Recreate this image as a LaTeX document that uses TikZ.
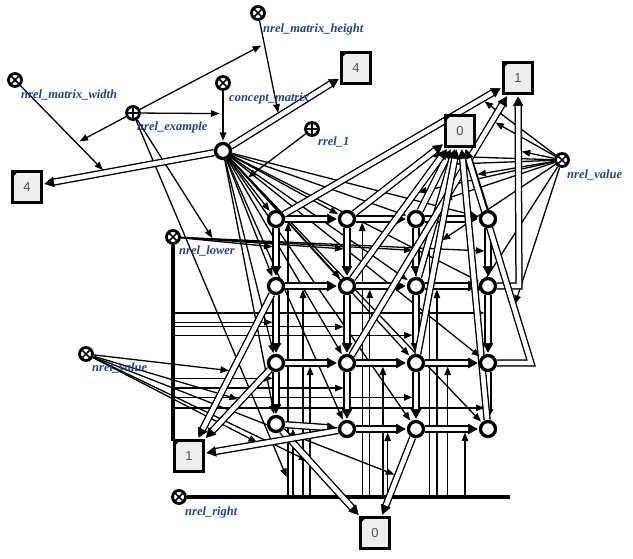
\documentclass[tikz,border=0pt]{standalone}
\usepackage{fontspec}
\setmainfont{Liberation Serif}
\newfontfamily\numfont{Liberation Sans}
\usetikzlibrary{arrows.meta,calc}
\pgfdeclarelayer{edges}
\pgfsetlayers{edges,main}
\definecolor{lblblue}{RGB}{28,66,150}
\definecolor{boxgray}{RGB}{238,238,238}
\definecolor{numgray}{RGB}{80,80,80}
% common arc drawn as a white tube with a solid head
\newcommand\tubeline[1]{\draw[tubebody] #1; \draw[tubetip] #1;}
\begin{document}
\begin{tikzpicture}[x=1pt,y=-1pt,
  cell/.style={circle, draw, line width=3.3pt, fill=white, minimum size=15pt, inner sep=0pt},
  relx/.style={circle, draw, line width=2.8pt, fill=white, minimum size=13pt, inner sep=0pt,
    path picture={\draw[line width=1.6pt]
      ([shift={(-3.6pt,-3.6pt)}]path picture bounding box.center) -- ([shift={(3.6pt,3.6pt)}]path picture bounding box.center)
      ([shift={(-3.6pt,3.6pt)}]path picture bounding box.center) -- ([shift={(3.6pt,-3.6pt)}]path picture bounding box.center);}},
  relp/.style={circle, draw, line width=2.8pt, fill=white, minimum size=13pt, inner sep=0pt,
    path picture={\draw[line width=1.6pt]
      ([xshift=-5pt]path picture bounding box.center) -- ([xshift=5pt]path picture bounding box.center)
      ([yshift=-5pt]path picture bounding box.center) -- ([yshift=5pt]path picture bounding box.center);}},
  valbox/.style={draw, line width=3pt, fill=boxgray, minimum width=29.5pt, minimum height=31.5pt, inner sep=0pt,
    font=\numfont\fontsize{13}{15}\selectfont, text=numgray,
    path picture={\fill[black] (path picture bounding box.north west) -- ([xshift=6pt]path picture bounding box.north west)
      -- ([yshift=-6pt]path picture bounding box.north west) -- cycle;}},
  lbl/.style={anchor=west, inner sep=0pt, text=lblblue, font=\bfseries\itshape\fontsize{12.5}{14}\selectfont},
  mem/.style={line width=1.3pt, -{Triangle[length=8.5pt,width=6.5pt]}, shorten >=1pt},
  onto/.style={mem, shorten >=3.5pt},
  bus/.style={line width=3.2pt},
  tubebody/.style={line width=1.5pt, double=white, double distance=4.3pt, shorten >=9pt},
  tubetip/.style={draw=white, line width=4.3pt, shorten >=1.2pt,
    -{Triangle[length=9.5pt,width=10.5pt,line width=0.4pt,black]}},
]
\useasboundingbox (0,0) rectangle (633,558);

% ---- relation and concept nodes
\node[relx] (nmh) at (258,13) {};
\node[relx] (nmw) at (15,80) {};
\node[relx] (cm)  at (223,83) {};
\node[relp] (ne)  at (133,113) {};
\node[relp] (r1)  at (312,129) {};
\node[relx] (nvr) at (562,160) {};
\node[relx] (nlo) at (173,237) {};
\node[relx] (nvl) at (86,354) {};
\node[relx] (nri) at (179,497) {};

\node[lbl] at (263,29)  {nrel\_matrix\_height};
\node[lbl] at (21,95)   {nrel\_matrix\_width};
\node[lbl] at (229,98)  {concept\_matrix};
\node[lbl] at (137,127) {nrel\_example};
\node[lbl] at (318,142) {rrel\_1};
\node[lbl] at (567,175) {nrel\_value};
\node[lbl] at (179,251) {nrel\_lower};
\node[lbl] at (92,368)  {nrel\_value};
\node[lbl] at (185,512) {nrel\_right};

% ---- the matrix and its cells
\node[cell] (M) at (223,151) {};
\node[cell] (c11) at (276,219) {};
\node[cell] (c12) at (347,219) {};
\node[cell] (c13) at (416,219) {};
\node[cell] (c14) at (488,219) {};
\node[cell] (c21) at (276,286) {};
\node[cell] (c22) at (347,286) {};
\node[cell] (c23) at (416,286) {};
\node[cell] (c24) at (488,286) {};
\node[cell] (c31) at (276,363) {};
\node[cell] (c32) at (347,363) {};
\node[cell] (c33) at (416,363) {};
\node[cell] (c34) at (488,363) {};
\node[cell] (c41) at (276,424) {};
\node[cell] (c42) at (347,429) {};
\node[cell] (c43) at (416,429) {};
\node[cell] (c44) at (488,429) {};

% ---- values
\node[valbox] (v4a) at (356,68)  {4};
\node[valbox] (v4b) at (27,187)  {4};
\node[valbox] (v1a) at (518,78)  {1};
\node[valbox] (v0a) at (460,131) {0};
\node[valbox] (v1b) at (189,456) {1};
\node[valbox] (v0b) at (375,533) {0};

% ---- bends and end points
\coordinate (k24) at (519,286);
\coordinate (k34) at (531,363);
\coordinate (nloend) at (173,441);
\coordinate (nriend) at (510,497);

% points on connectors that other arcs reach
\coordinate (ph) at ($(M)!0.42!(v4a)$);
\coordinate (pw) at ($(M)!0.6!(v4b)$);
\coordinate (pc) at ($(cm)!0.45!(M)$);
\coordinate (pr) at ($(M)!0.42!(c11)$);
% vertical tubes, reached from nrel_lower
\coordinate (l11) at ($(c11)!0.42!(c21)$);
\coordinate (l12) at ($(c12)!0.45!(c22)$);
\coordinate (l13) at ($(c13)!0.47!(c23)$);
\coordinate (l14) at ($(c14)!0.48!(c24)$);
\coordinate (l21) at ($(c21)!0.47!(c31)$);
\coordinate (l22) at ($(c22)!0.53!(c32)$);
\coordinate (l23) at ($(c23)!0.64!(c33)$);
\coordinate (l24) at ($(c24)!0.35!(c34)$);
\coordinate (l31) at ($(c31)!0.25!(c41)$);
\coordinate (l32) at ($(c32)!0.38!(c42)$);
\coordinate (l33) at ($(c33)!0.52!(c43)$);
\coordinate (l34) at ($(c34)!0.68!(c44)$);
% horizontal tubes, reached from nrel_right
\coordinate (h11) at ($(c11)!0.17!(c12)$);
\coordinate (h12) at ($(c12)!0.22!(c13)$);
\coordinate (h13) at ($(c13)!0.19!(c14)$);
\coordinate (h21) at ($(c21)!0.38!(c22)$);
\coordinate (h22) at ($(c22)!0.33!(c23)$);
\coordinate (h23) at ($(c23)!0.29!(c24)$);
\coordinate (h31) at ($(c31)!0.48!(c32)$);
\coordinate (h32) at ($(c32)!0.52!(c33)$);
\coordinate (h33) at ($(c33)!0.44!(c34)$);
\coordinate (h41) at ($(c41)!0.24!(c42)$);
\coordinate (h42) at ($(c42)!0.59!(c43)$);
\coordinate (h43) at ($(c43)!0.68!(c44)$);
\coordinate (b11) at (h11 |- nri);
% value tubes, reached from nrel_value
\coordinate (n1)  at ($(c11)!0.85!(v1a)$);
\coordinate (n2)  at ($(c32)!0.85!(v1a)$);
\coordinate (n3)  at ($(k24)!0.65!(v1a)$);
\coordinate (n4)  at ($(c12)!0.72!(v0a)$);
\coordinate (n5)  at ($(c13)!0.62!(v0a)$);
\coordinate (n6)  at ($(c14)!0.5!(v0a)$);
\coordinate (n7)  at ($(c22)!0.6!(v0a)$);
\coordinate (n8)  at ($(c23)!0.55!(v0a)$);
\coordinate (n9)  at ($(c33)!0.52!(v0a)$);
\coordinate (n10) at ($(c44)!0.45!(v0a)$);
\coordinate (n11) at ($(k34)!0.24!(v0a)$);
\coordinate (m1)  at ($(c21)!0.5!(v1b)$);
\coordinate (m2)  at ($(c31)!0.4!(v1b)$);
\coordinate (m3)  at ($(c42)!0.55!(v1b)$);
\coordinate (m4)  at ($(c41)!0.35!(v0b)$);
\coordinate (m5)  at ($(c43)!0.45!(v0b)$);

\begin{pgfonlayer}{edges}
  % buses
  \draw[bus] (nlo) -- (nloend);
  \draw[bus] (nri) -- (nriend);

  % membership of cells in the matrix
  \foreach \c in {c11,c12,c13,c14,c21,c22,c23,c24,c31,c32,c33,c34,c41,c42,c43,c44}
    \draw[mem] (M) -- (\c);
  \draw[mem] (cm) -- (M);
  \draw[onto] (r1) -- (pr);

  % dimensions
  \draw[onto] (nmh) -- (ph);
  \draw[onto] (nmw) -- (pw);

  % nrel_lower
  \draw[onto] (nlo) -- (l11);
  \draw[onto] (nlo) -- (l12);
  \draw[onto] (nlo) -- (l13);
  \draw[onto] (nlo) -- (l14);
  \foreach \p in {l21,l22,l23,l24,l31,l32,l33,l34}
    \draw[onto] (nlo |- \p) -- (\p);

  % nrel_right
  \foreach \p in {h11,h12,h13,h21,h22,h23,h31,h32,h33,h41,h42,h43}
    \draw[onto] (\p |- nri) -- (\p);

  % nrel_value
  \foreach \p in {n1,n2,n3,n4,n5,n6,n7,n8,n9,n10,n11}
    \draw[onto] (nvr) -- (\p);
  \foreach \p in {m1,m2,m3,m4,m5}
    \draw[onto] (nvl) -- (\p);

  % nrel_example
  \draw[onto] (ne) -- (pc);
  \draw[onto] (ne) -- ($(nmh)!0.3!(ph)$);
  \draw[onto] (ne) -- ($(nmw)!0.68!(pw)$);
  \draw[onto] (ne) -- ($(nlo)!0.4!(l11)$);
  \draw[onto] (ne) -- ($(b11)!0.06!(h11)$);

  % matrix dimensions
  \tubeline{(M) -- (v4a)}
  \tubeline{(M) -- (v4b)}

  % neighbourhood of cells: rows and columns
  \foreach \r in {1,2,3,4}{
    \tubeline{(c\r1) -- (c\r2)}
    \tubeline{(c\r2) -- (c\r3)}
    \tubeline{(c\r3) -- (c\r4)}
  }
  \foreach \k in {1,2,3,4}{
    \tubeline{(c1\k) -- (c2\k)}
    \tubeline{(c2\k) -- (c3\k)}
    \tubeline{(c3\k) -- (c4\k)}
  }

  % cell values
  \tubeline{(c11) -- (v1a)}
  \tubeline{(c12) -- (v0a)}
  \tubeline{(c13) -- (v0a)}
  \tubeline{(c14) -- (v0a)}
  \tubeline{(c21) -- (v1b)}
  \tubeline{(c22) -- (v0a)}
  \tubeline{(c23) -- (v0a)}
  \tubeline{(c24) -- (k24) -- (v1a)}
  \tubeline{(c31) -- (v1b)}
  \tubeline{(c32) -- (v1a)}
  \tubeline{(c33) -- (v0a)}
  \tubeline{(c34) -- (k34) -- (v0a)}
  \tubeline{(c41) -- (v0b)}
  \tubeline{(c42) -- (v1b)}
  \tubeline{(c43) -- (v0b)}
  \tubeline{(c44) -- (v0a)}
\end{pgfonlayer}
\end{tikzpicture}
\end{document}
